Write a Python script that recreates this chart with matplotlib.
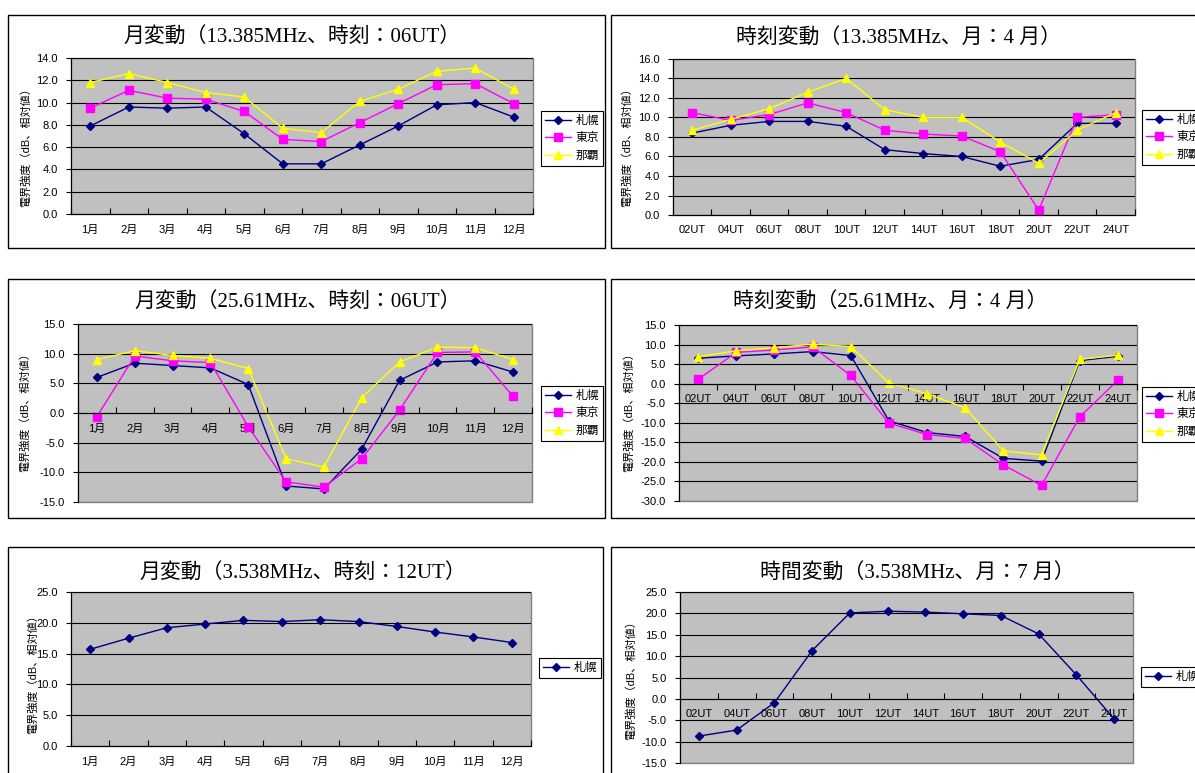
import numpy as np
import matplotlib
matplotlib.use('Agg')
import matplotlib.pyplot as plt
from matplotlib.patches import Rectangle

plt.rcParams['font.family'] = ['Liberation Sans', 'Noto Sans CJK JP']

# categories
months = ['1月', '2月', '3月', '4月', '5月', '6月', '7月', '8月', '9月', '10月', '11月', '12月']
hours = ['02UT', '04UT', '06UT', '08UT', '10UT', '12UT', '14UT', '16UT', '18UT', '20UT', '22UT', '24UT']
stations = ['札幌', '東京', '那覇']

# 13.385MHz, 06UT, by month
m13_sapporo = [7.9, 9.6, 9.5, 9.6, 7.2, 4.5, 4.5, 6.2, 7.9, 9.8, 10.0, 8.7]
m13_tokyo = [9.5, 11.1, 10.4, 10.3, 9.2, 6.7, 6.5, 8.2, 9.9, 11.6, 11.7, 9.9]
m13_naha = [11.8, 12.6, 11.8, 10.9, 10.5, 7.7, 7.3, 10.1, 11.2, 12.8, 13.1, 11.2]

# 13.385MHz, April, by hour
h13_sapporo = [8.4, 9.2, 9.6, 9.6, 9.1, 6.7, 6.3, 6.0, 5.0, 5.7, 9.4, 9.4]
h13_tokyo = [10.5, 9.7, 10.3, 11.5, 10.5, 8.7, 8.3, 8.1, 6.5, 0.5, 10.0, 10.3]
h13_naha = [8.7, 9.8, 10.9, 12.6, 14.0, 10.8, 10.0, 10.0, 7.5, 5.3, 8.7, 10.5]

# 25.61MHz, 06UT, by month
m25_sapporo = [6.0, 8.4, 8.0, 7.6, 4.8, -12.3, -12.8, -6.1, 5.5, 8.6, 8.8, 6.9]
m25_tokyo = [-0.6, 9.6, 8.8, 8.5, -2.3, -11.6, -12.5, -7.7, 0.5, 10.2, 10.3, 2.8]
m25_naha = [9.0, 10.5, 9.7, 9.2, 7.5, -7.7, -9.1, 2.6, 8.6, 11.1, 11.0, 9.0]

# 25.61MHz, April, by hour
h25_sapporo = [6.5, 7.1, 7.6, 8.2, 7.2, -9.5, -12.5, -13.5, -19.1, -19.8, 5.9, 7.0]
h25_tokyo = [1.1, 8.0, 8.6, 9.4, 2.1, -10.1, -13.0, -14.0, -20.8, -26.0, -8.5, 0.9]
h25_naha = [6.9, 8.4, 9.2, 10.1, 9.5, 0.2, -2.6, -6.2, -17.2, -18.2, 6.2, 7.3]

# 3.538MHz, Sapporo only
m3_sapporo = [15.7, 17.5, 19.2, 19.8, 20.4, 20.2, 20.5, 20.2, 19.4, 18.5, 17.7, 16.8]
h3_sapporo = [-8.7, -7.3, -0.9, 11.3, 20.1, 20.5, 20.3, 19.9, 19.5, 15.2, 5.6, -4.7]

W, H = 1195, 773
colors = {'札幌': '#000080', '東京': '#FF00FF', '那覇': '#FFFF00'}
markers = {'札幌': 'D', '東京': 's', '那覇': '^'}
msizes = {'札幌': 4, '東京': 5.5, '那覇': 5.5}

fig = plt.figure(figsize=(W / 100, H / 100), dpi=100)


def draw_panel(frame, plot, title, title_xy, ylab_xy, leg_xy, cats, series,
               ylim, ystep, zero_axis=False, tickdir='in'):
    # chart frame
    fl, ft, fr, fb = frame
    fig.patches.append(Rectangle((fl / W, 1 - fb / H), (fr - fl) / W, (fb - ft) / H,
                                 transform=fig.transFigure, fill=False,
                                 edgecolor='black', linewidth=1.0))
    pl, pt, pr, pb = plot
    ax = fig.add_axes([pl / W, 1 - pb / H, (pr - pl) / W, (pb - pt) / H])
    ax.set_facecolor('#C0C0C0')
    ax.patch.set_edgecolor('#808080')
    ax.patch.set_linewidth(1.0)

    x = np.arange(len(cats))
    for name, vals in series:
        ax.plot(x, vals, color=colors[name], marker=markers[name], markersize=msizes[name],
                markeredgecolor=colors[name], linewidth=1.0, label=name)

    ax.set_xlim(-0.5, len(cats) - 0.5)
    ax.set_ylim(*ylim)
    ax.set_yticks(np.arange(ylim[0], ylim[1] + 0.01, ystep))
    ax.yaxis.set_major_formatter(matplotlib.ticker.FormatStrFormatter('%.1f'))
    ax.yaxis.grid(True, color='black', linewidth=0.8)
    ax.set_axisbelow(True)

    ax.set_xticks(x)
    ax.set_xticklabels(cats)
    ax.set_xticks(np.arange(-0.5, len(cats), 1), minor=True)
    ax.tick_params(axis='x', which='major', length=0, pad=7.5, labelsize=8)
    ax.tick_params(axis='x', which='minor', length=4, direction=tickdir, width=0.8)
    ax.tick_params(axis='y', length=3.5, width=0.8, pad=6, labelsize=8)

    for s in ['top', 'right']:
        ax.spines[s].set_visible(False)
    ax.spines['left'].set_linewidth(0.8)
    ax.spines['bottom'].set_linewidth(0.8)
    if zero_axis:
        ax.spines['bottom'].set_position(('data', 0))

    fig.text(title_xy[0] / W, 1 - title_xy[1] / H, title, ha='center', va='center',
             fontsize=15, family=['Liberation Serif', 'Noto Sans CJK JP'])
    fig.text(ylab_xy[0] / W, 1 - ylab_xy[1] / H, '電界強度（dB、相対値）', rotation=90,
             ha='center', va='center', fontsize=8)

    leg = ax.legend(loc='upper left', bbox_to_anchor=(leg_xy[0] / W, 1 - leg_xy[1] / H),
                    bbox_transform=fig.transFigure, fancybox=False, framealpha=1,
                    edgecolor='black', fontsize=8.5, handlelength=2.2, borderpad=0.35,
                    labelspacing=0.45, handletextpad=0.4, borderaxespad=0)
    leg.get_frame().set_linewidth(0.8)
    return ax


draw_panel((8, 15, 605, 248), (71, 58, 533, 214), '月変動（13.385MHz、時刻：06UT）',
           (292, 37), (26, 145), (541, 111), months,
           [('札幌', m13_sapporo), ('東京', m13_tokyo), ('那覇', m13_naha)], (0, 14), 2)

draw_panel((611, 15, 1200, 248), (673, 59, 1135, 215), '時刻変動（13.385MHz、月：4 月）',
           (898, 38), (627, 145), (1142, 110), hours,
           [('札幌', h13_sapporo), ('東京', h13_tokyo), ('那覇', h13_naha)], (0, 16), 2)

draw_panel((8, 279, 605, 518), (78, 324, 532, 502), '月変動（25.61MHz、時刻：06UT）',
           (298, 302), (25, 410), (541, 386), months,
           [('札幌', m25_sapporo), ('東京', m25_tokyo), ('那覇', m25_naha)], (-15, 15), 5,
           zero_axis=True)

draw_panel((611, 279, 1200, 518), (679, 325, 1137, 501), '時刻変動（25.61MHz、月：4 月）',
           (890, 302), (629, 410), (1142, 387), hours,
           [('札幌', h25_sapporo), ('東京', h25_tokyo), ('那覇', h25_naha)], (-30, 15), 5,
           zero_axis=True, tickdir='out')

draw_panel((8, 547, 603, 780), (71, 592, 531, 746), '月変動（3.538MHz、時刻：12UT）',
           (303, 573), (33, 672), (539, 658), months,
           [('札幌', m3_sapporo)], (0, 25), 5)

draw_panel((611, 547, 1200, 780), (680, 592, 1133, 763), '時間変動（3.538MHz、月：7 月）',
           (917, 573), (631, 678), (1141, 667), hours,
           [('札幌', h3_sapporo)], (-15, 25), 5, zero_axis=True)

fig.savefig('out.png', dpi=100)
